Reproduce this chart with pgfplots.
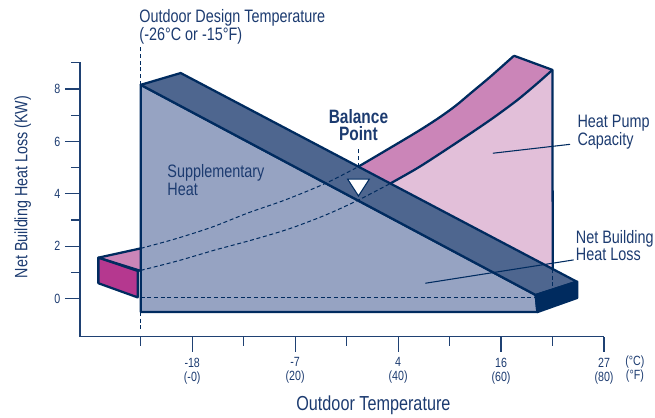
\documentclass[border=0pt]{standalone}
\usepackage{fontspec}
\setmainfont{Liberation Sans}[FakeStretch=0.8]
\usepackage{pgfplots}
\pgfplotsset{compat=1.18}
\definecolor{navy}{HTML}{002B5F}
\definecolor{ink}{HTML}{1C3B70}
\definecolor{axisblue}{HTML}{1F4173}
\definecolor{band}{HTML}{4E668F}
\definecolor{mainfill}{HTML}{96A3C2}
\definecolor{pinkband}{HTML}{CB85B8}
\definecolor{pinkfill}{HTML}{E2BFD9}
\definecolor{magenta2}{HTML}{B5388F}
\tikzset{
  face/.style={draw=navy,line width=1.7pt,line join=round},
  hidden/.style={draw=navy,line width=0.75pt,dash pattern=on 3pt off 2pt},
  note/.style={text=ink,font=\fontsize{13.5}{12}\selectfont,align=left,anchor=west,inner sep=0pt},
}
\begin{document}
\begin{tikzpicture}
\path[use as bounding box] (-60pt,-60.225pt) rectangle (431.25pt,252.525pt);
\begin{axis}[
  at={(0,0)},anchor=south west,
  scale only axis,width=393pt,height=205.8pt,
  xmin=-21.8,xmax=80,ymin=-1.45,ymax=9.02,
  clip=false,
  axis x line*=bottom,axis y line*=left,
  axis line style={draw=axisblue,line width=0.9pt,-},
  tick align=outside,
  tick style={draw=axisblue,line width=0.9pt},
  major tick length=11.25pt,minor tick length=6.75pt,
  xtick={0,20,40,60,80},
  xticklabels={-18\\(-0),-7\\(20),4\\(40),16\\(60),27\\(80)},
  minor xtick={-10,10,30,50,70},
  ytick={0,2,4,6,8},
  minor ytick={1,3,5,7,9},
  /pgf/number format/assume math mode=true,
  xticklabel style={align=center,text=ink,font=\fontsize{10}{10.5}\selectfont,yshift=-1pt},
  yticklabel style={text=ink,font=\fontsize{10}{10.5}\selectfont},
  xlabel={Outdoor Temperature},
  xlabel style={at={(axis cs:35.2,-4.08)},anchor=center,text=ink,font=\fontsize{15.2}{16}\selectfont},
  ylabel={Net Building Heat Loss (KW)},
  ylabel style={at={(axis cs:-32.9,4.26)},anchor=center,text=ink,font=\fontsize{13.4}{15}\selectfont},
]
% heat pump capacity, front face
\addplot[draw=none,fill=pinkfill] coordinates {
  (38.52,4.40)(43.72,4.98)(48.25,5.55)(54.09,6.31)(58.62,6.92)(63.17,7.58)(67.06,8.22)(69.98,8.73)(70.04,1.13)} -- cycle;
% heat pump capacity, top face
\addplot[draw=none,fill=pinkband] coordinates {
  (32.3,5.04)(37.22,5.61)(43.72,6.37)(47.92,6.90)(51.17,7.36)(54.09,7.84)(57.98,8.48)(62.51,9.27)(69.98,8.73)
  (67.06,8.22)(63.17,7.58)(58.62,6.92)(54.09,6.31)(48.25,5.55)(43.72,4.98)(38.52,4.40)} -- cycle;
% capacity curves and the edges that close them
\addplot[face,smooth] coordinates {(38.52,4.40)(43.72,4.98)(48.25,5.55)(54.09,6.31)(58.62,6.92)(63.17,7.58)(67.06,8.22)(69.98,8.73)};
\addplot[face,smooth] coordinates {(32.3,5.04)(37.22,5.61)(43.72,6.37)(47.92,6.90)(51.17,7.36)(54.09,7.84)(57.98,8.48)(62.51,9.27)};
\addplot[face] coordinates {(62.51,9.27)(69.98,8.73)(70.04,1.13)};
% net building heat loss, front face
\addplot[face,fill=mainfill] coordinates {(-10,8.16)(66.73,0.14)(67.06,-0.51)(-10,-0.51)} -- cycle;
% net building heat loss, top face
\addplot[face,fill=band] coordinates {(-10,8.16)(-2.24,8.61)(74.7,0.65)(66.73,0.14)} -- cycle;
% right end of the block
\addplot[face,fill=navy] coordinates {(66.73,0.14)(74.8,0.65)(74.8,0.03)(67.06,-0.51)} -- cycle;
% hidden edges
\addplot[hidden] coordinates {(-10,0.06)(66.7,0.06)};
\addplot[hidden,smooth] coordinates {(-10,1.08)(-2.67,1.45)(4.47,1.86)(11.61,2.24)(18.74,2.66)(25.88,3.19)(32.35,3.77)(38.52,4.40)};
\addplot[hidden,smooth] coordinates {(-10,1.92)(-3.31,2.28)(3.83,2.73)(10.95,3.28)(18.09,3.77)(25.88,4.40)(32.3,5.04)};
\addplot[hidden] coordinates {(-10,-0.51)(-10,-1.19)};
\addplot[hidden] coordinates {(-10,8.16)(-10,9.62)};
\addplot[hidden] coordinates {(70.04,1.13)(70.04,0.41)};
\addplot[hidden] coordinates {(32.3,5.04)(32.3,5.8)};
% left end of the heat pump block
\addplot[face,fill=pinkband] coordinates {(-18.23,1.565)(-10,1.92)(-10,1.06)} -- cycle;
\addplot[face,fill=magenta2] coordinates {(-18.23,1.565)(-18.23,0.59)(-10.6,0.05)(-10.6,1.06)} -- cycle;
% balance point marker
\addplot[draw=navy,line width=0.8pt,fill=white] coordinates {(30.2,4.56)(34.4,4.56)(32.3,3.92)} -- cycle;
% leaders
\addplot[draw=navy,line width=0.8pt] coordinates {(58.4,5.55)(73.4,5.89)};
\addplot[draw=navy,line width=0.8pt] coordinates {(45.3,0.59)(74.1,1.48)};
% text
\node[note] at (axis cs:-10.3,10.37) {Outdoor Design Temperature\\(-26°C or -15°F)};
\node[note,anchor=center,align=center,font=\bfseries\fontsize{14.5}{13}\selectfont] at (axis cs:32.3,6.62) {Balance\\Point};
\node[note] at (axis cs:-4.86,4.53) {Supplementary\\Heat};
\node[note] at (axis cs:74.8,6.36) {Heat Pump\\Capacity};
\node[note] at (axis cs:74.5,2.03) {Net Building\\Heat Loss};
\node[note,anchor=center,align=center,font=\fontsize{10}{10.5}\selectfont] at (axis cs:86,-2.70) {(°C)\\(°F)};
\end{axis}
\end{tikzpicture}
\end{document}
